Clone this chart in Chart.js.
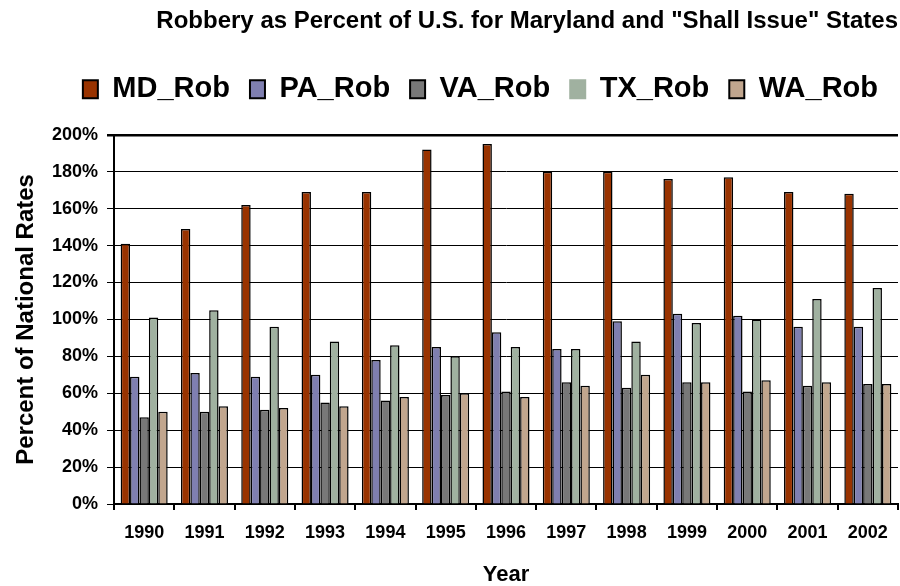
<!DOCTYPE html>
<html>
<head>
<meta charset="utf-8">
<script src="https://cdn.jsdelivr.net/npm/chart.js@4.4.0/dist/chart.umd.min.js"></script>
<style>
  html, body { margin: 0; padding: 0; background: #fff; }
  #wrap { width: 900px; height: 586px; }
</style>
</head>
<body>
<div id="wrap"><canvas id="robbery"></canvas></div>
<script>
var years = ['1990', '1991', '1992', '1993', '1994', '1995', '1996',
             '1997', '1998', '1999', '2000', '2001', '2002'];

// percent of national robbery rate
var mdRob = [141, 149, 162, 169, 169, 192, 195, 180, 180, 176, 177, 169, 168];
var paRob = [69, 71, 69, 70, 78, 85, 93, 84, 99, 103, 102, 96, 96];
var vaRob = [47, 50, 51, 55, 56, 59, 61, 66, 63, 66, 61, 64, 65];
var txRob = [101, 105, 96, 88, 86, 80, 85, 84, 88, 98, 100, 111, 117];
var waRob = [50, 53, 52, 53, 58, 60, 58, 64, 70, 66, 67, 66, 65];

var yTicks = [0, 20, 40, 60, 80, 100, 120, 140, 160, 180, 200];

var FONT = '"Liberation Sans", Arial, sans-serif';
Chart.defaults.font.family = FONT;
Chart.defaults.color = '#000';

function bars(label, values, color) {
    return {
        label: label,
        data: values,
        backgroundColor: color,
        borderColor: '#000',
        borderWidth: 1.5,
        borderSkipped: 'bottom',
        categoryPercentage: 0.78,
        barPercentage: 1.0
    };
}

var ctx = document.getElementById('robbery').getContext('2d');

var robChart = new Chart(ctx, {
    type: 'bar',
    data: {
        labels: years,
        datasets: [
            bars('MD_Rob', mdRob, '#993300'),
            bars('PA_Rob', paRob, '#7f7fb0'),
            bars('VA_Rob', vaRob, '#787878'),
            bars('TX_Rob', txRob, '#a0b1a0'),
            bars('WA_Rob', waRob, '#c1a68e')
        ]
    },
    options: {
        responsive: true,
        maintainAspectRatio: false,
        animation: false,
        layout: { padding: { left: 0, right: 2, top: 0, bottom: 0 } },
        plugins: {
            tooltip: { enabled: false },
            title: {
                display: true,
                text: 'Robbery as Percent of U.S. for Maryland and "Shall Issue" States',
                align: 'end',
                color: '#000',
                font: { size: 24, weight: 'bold' },
                padding: { top: 7, bottom: 19 }
            },
            // empty spacer between legend and plot area
            subtitle: {
                display: true,
                text: '',
                weight: 500,
                font: { size: 1, lineHeight: 1 },
                padding: { top: 20, bottom: 0 }
            },
            legend: {
                display: true,
                align: 'end',
                labels: {
                    color: '#000',
                    font: { size: 29, weight: 'bold' },
                    boxWidth: 15,
                    boxHeight: 18,
                    padding: 20,
                    generateLabels: function(chart) {
                        var items = Chart.defaults.plugins.legend.labels.generateLabels(chart);
                        items.forEach(function(it) {
                            it.lineWidth = 2;
                            if (it.text === 'TX_Rob') {
                                it.strokeStyle = it.fillStyle;
                            }
                        });
                        return items;
                    }
                }
            }
        },
        scales: {
            x: {
                offset: true,
                grid: {
                    display: true,
                    offset: true,
                    drawOnChartArea: false,
                    drawTicks: true,
                    tickLength: 6,
                    color: '#000',
                    lineWidth: 2
                },
                border: { display: true, color: '#000', width: 2 },
                ticks: {
                    color: '#000',
                    font: { size: 18, weight: 'bold' },
                    padding: 12,
                    maxRotation: 0
                },
                title: {
                    display: true,
                    text: 'Year',
                    color: '#000',
                    font: { size: 22, weight: 'bold', lineHeight: 1 },
                    padding: { top: 0, bottom: 0 }
                },
                afterFit: function(scale) { scale.height = 82; }
            },
            y: {
                min: 0,
                max: 200,
                afterBuildTicks: function(scale) {
                    scale.ticks = yTicks.map(function(v) { return { value: v }; });
                },
                grid: {
                    color: '#000',
                    lineWidth: function(c) { return c.tick && c.tick.value === 200 ? 2.5 : 1; },
                    tickLength: 7
                },
                border: { display: true, color: '#000', width: 2 },
                ticks: {
                    color: '#000',
                    font: { size: 18, weight: 'bold' },
                    padding: 9,
                    callback: function(v) { return v + '%'; }
                },
                title: {
                    display: true,
                    text: 'Percent of National Rates',
                    color: '#000',
                    font: { size: 24, weight: 'bold', lineHeight: 1 },
                    padding: { top: 14, bottom: 0 }
                },
                afterFit: function(scale) { scale.width = 114; }
            }
        }
    }
});
</script>
</body>
</html>
